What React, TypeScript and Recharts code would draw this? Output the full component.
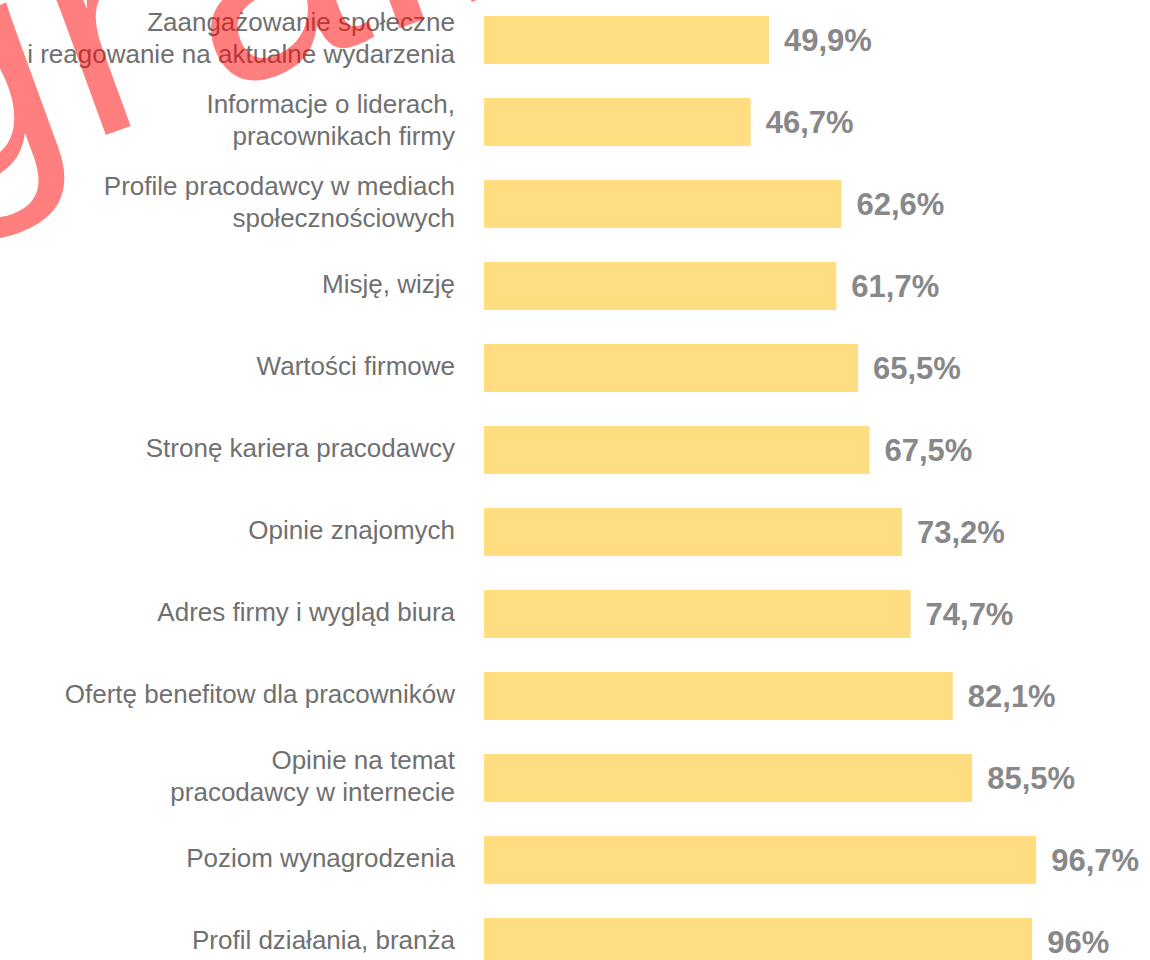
import { BarChart, Bar, XAxis, YAxis, LabelList } from "recharts";

const CATEGORIES = [
  "Zaangażowanie społeczne\ni reagowanie na aktualne wydarzenia",
  "Informacje o liderach,\npracownikach firmy",
  "Profile pracodawcy w mediach\nspołecznościowych",
  "Misję, wizję",
  "Wartości firmowe",
  "Stronę kariera pracodawcy",
  "Opinie znajomych",
  "Adres firmy i wygląd biura",
  "Ofertę benefitow dla pracowników",
  "Opinie na temat\npracodawcy w internecie",
  "Poziom wynagrodzenia",
  "Profil działania, branża",
];

const VALUES = [49.9, 46.7, 62.6, 61.7, 65.5, 67.5, 73.2, 74.7, 82.1, 85.5, 96.7, 96];

const data = CATEGORIES.map((name, i) => ({ name, value: VALUES[i] }));

const FONT = "'Liberation Sans', Arial, sans-serif";

const formatValue = (v: number) => `${String(v).replace(".", ",")}%`;

// multi-line category label, right aligned next to the bars
function CategoryTick({ x, y, payload }: any) {
  const lines = String(payload.value).split("\n");
  const lineHeight = 32;
  const startY = y - 2 - ((lines.length - 1) * lineHeight) / 2;
  const tx = x - 21;
  return (
    <text
      x={tx}
      y={startY}
      textAnchor="end"
      dominantBaseline="central"
      fontFamily={FONT}
      fontSize={26}
      fill="#707070"
    >
      {lines.map((line, i) => (
        <tspan key={i} x={tx} y={startY + i * lineHeight}>
          {line}
        </tspan>
      ))}
    </text>
  );
}

export default function App() {
  return (
    <div style={{ position: "absolute", top: -1, left: 0, width: 1150, height: 1000 }}>
      <BarChart
        width={1150}
        height={1000}
        data={data}
        layout="vertical"
        margin={{ top: 0, right: 95, bottom: 16, left: 0 }}
      >
        <XAxis type="number" domain={[0, 100]} hide />
        <YAxis
          type="category"
          dataKey="name"
          width={484}
          axisLine={false}
          tickLine={false}
          interval={0}
          tick={<CategoryTick />}
        />
        <Bar dataKey="value" fill="#ffdd80" barSize={48} isAnimationActive={false}>
          <LabelList
            dataKey="value"
            position="right"
            offset={15}
            formatter={formatValue}
            style={{ fontFamily: FONT, fontSize: 31, fontWeight: 700, fill: "#888888" }}
          />
        </Bar>
      </BarChart>
      {/* watermark */}
      <svg
        width={1150}
        height={1000}
        style={{ position: "absolute", top: 0, left: 0, pointerEvents: "none" }}
      >
        <text
          x={-78}
          y={203}
          transform="rotate(-20, -78, 203)"
          fontFamily={FONT}
          fontSize={300}
          fill="rgba(255, 0, 0, 0.5)"
        >
          <tspan>g</tspan>
          <tspan dx={8}>r</tspan>
          <tspan dx={40}>afika</tspan>
        </text>
      </svg>
    </div>
  );
}
